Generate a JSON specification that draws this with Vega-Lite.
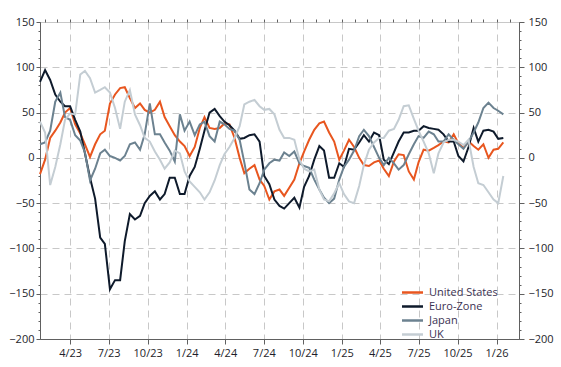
{
 "$schema": "https://vega.github.io/schema/vega-lite/v6.json",
 "width": 479,
 "height": 317,
 "autosize": "none",
 "padding": {"left": 40, "top": 22, "right": 42, "bottom": 28},
 "background": "white",
 "config": {
  "font": "Open Sans",
  "view": {"stroke": "#c8c8c8", "strokeWidth": 1},
  "axis": {"labelFont": "Open Sans", "labelFontSize": 11, "labelColor": "#1e1e2a", "domainColor": "#606060", "tickColor": "#606060", "gridColor": "#c8c8c8", "gridDash": [7, 5], "gridWidth": 1, "title": null}
 },
 "datasets": {
  "rows": [
   {"date": "2023-01-20", "us": -18, "ez": 84, "jp": 15, "uk": 40},
   {"date": "2023-02-01", "us": -2, "ez": 97, "jp": 17, "uk": 28},
   {"date": "2023-02-13", "us": 22, "ez": 86, "jp": 30, "uk": -30},
   {"date": "2023-02-25", "us": 30, "ez": 70, "jp": 62, "uk": -10},
   {"date": "2023-03-09", "us": 39, "ez": 62, "jp": 72, "uk": 15},
   {"date": "2023-03-20", "us": 50, "ez": 57, "jp": 45, "uk": 42},
   {"date": "2023-04-01", "us": 55, "ez": 57, "jp": 42, "uk": 49},
   {"date": "2023-04-13", "us": 37, "ez": 42, "jp": 25, "uk": 48},
   {"date": "2023-04-25", "us": 27, "ez": 29, "jp": 19, "uk": 92},
   {"date": "2023-05-06", "us": 15, "ez": 5, "jp": 6, "uk": 96},
   {"date": "2023-05-18", "us": 1, "ez": -22, "jp": -25, "uk": 88},
   {"date": "2023-05-30", "us": 15, "ez": -45, "jp": -12, "uk": 72},
   {"date": "2023-06-11", "us": 26, "ez": -88, "jp": 5, "uk": 75},
   {"date": "2023-06-22", "us": 30, "ez": -95, "jp": 9, "uk": 78},
   {"date": "2023-07-04", "us": 60, "ez": -145, "jp": 2, "uk": 72},
   {"date": "2023-07-16", "us": 70, "ez": -135, "jp": 0, "uk": 55},
   {"date": "2023-07-28", "us": 77, "ez": -135, "jp": -3, "uk": 32},
   {"date": "2023-08-08", "us": 78, "ez": -92, "jp": 2, "uk": 62},
   {"date": "2023-08-20", "us": 66, "ez": -62, "jp": 15, "uk": 75},
   {"date": "2023-09-01", "us": 55, "ez": -68, "jp": 17, "uk": 48},
   {"date": "2023-09-13", "us": 60, "ez": -64, "jp": 9, "uk": 36},
   {"date": "2023-09-24", "us": 53, "ez": -50, "jp": 26, "uk": 22},
   {"date": "2023-10-06", "us": 50, "ez": -42, "jp": 60, "uk": 18},
   {"date": "2023-10-18", "us": 53, "ez": -37, "jp": 26, "uk": 7},
   {"date": "2023-10-30", "us": 62, "ez": -46, "jp": 26, "uk": -2},
   {"date": "2023-11-10", "us": 45, "ez": -40, "jp": 17, "uk": -12},
   {"date": "2023-11-22", "us": 35, "ez": -22, "jp": 8, "uk": -5},
   {"date": "2023-12-04", "us": 25, "ez": -22, "jp": -4, "uk": 8},
   {"date": "2023-12-16", "us": 18, "ez": -40, "jp": 48, "uk": 5},
   {"date": "2023-12-27", "us": 13, "ez": -40, "jp": 30, "uk": -15},
   {"date": "2024-01-08", "us": 2, "ez": -20, "jp": 40, "uk": -26},
   {"date": "2024-01-20", "us": 12, "ez": -10, "jp": 25, "uk": -32},
   {"date": "2024-02-01", "us": 33, "ez": 10, "jp": 37, "uk": -38},
   {"date": "2024-02-12", "us": 45, "ez": 30, "jp": 40, "uk": -46},
   {"date": "2024-02-24", "us": 33, "ez": 50, "jp": 24, "uk": -38},
   {"date": "2024-03-07", "us": 32, "ez": 54, "jp": 18, "uk": -25},
   {"date": "2024-03-19", "us": 33, "ez": 46, "jp": 40, "uk": -8},
   {"date": "2024-03-30", "us": 38, "ez": 40, "jp": 37, "uk": 4},
   {"date": "2024-04-11", "us": 37, "ez": 36, "jp": 32, "uk": 12},
   {"date": "2024-04-23", "us": 22, "ez": 30, "jp": 30, "uk": 22},
   {"date": "2024-05-05", "us": 0, "ez": 21, "jp": 20, "uk": 35},
   {"date": "2024-05-16", "us": -17, "ez": 22, "jp": -5, "uk": 59},
   {"date": "2024-05-28", "us": -12, "ez": 25, "jp": -35, "uk": 62},
   {"date": "2024-06-09", "us": -8, "ez": 26, "jp": -40, "uk": 64},
   {"date": "2024-06-21", "us": -24, "ez": 18, "jp": -28, "uk": 57},
   {"date": "2024-07-02", "us": -31, "ez": -20, "jp": -13, "uk": 53},
   {"date": "2024-07-14", "us": -46, "ez": -29, "jp": -6, "uk": 54},
   {"date": "2024-07-26", "us": -37, "ez": -46, "jp": -2, "uk": 48},
   {"date": "2024-08-07", "us": -35, "ez": -53, "jp": -3, "uk": 31},
   {"date": "2024-08-18", "us": -42, "ez": -56, "jp": 6, "uk": 22},
   {"date": "2024-08-30", "us": -33, "ez": -50, "jp": 2, "uk": 22},
   {"date": "2024-09-11", "us": -24, "ez": -44, "jp": 7, "uk": 20},
   {"date": "2024-09-23", "us": -6, "ez": -55, "jp": -6, "uk": -2},
   {"date": "2024-10-04", "us": 7, "ez": -32, "jp": -9, "uk": -12},
   {"date": "2024-10-16", "us": 20, "ez": -20, "jp": -11, "uk": -15},
   {"date": "2024-10-28", "us": 31, "ez": -2, "jp": -24, "uk": -13},
   {"date": "2024-11-09", "us": 38, "ez": 13, "jp": -35, "uk": -35},
   {"date": "2024-11-20", "us": 40, "ez": 8, "jp": -44, "uk": -46},
   {"date": "2024-12-02", "us": 28, "ez": -22, "jp": -50, "uk": -48},
   {"date": "2024-12-14", "us": 18, "ez": -22, "jp": -45, "uk": -39},
   {"date": "2024-12-26", "us": -2, "ez": -6, "jp": -24, "uk": -28},
   {"date": "2025-01-06", "us": 8, "ez": -10, "jp": -10, "uk": -40},
   {"date": "2025-01-18", "us": 20, "ez": 10, "jp": -2, "uk": -48},
   {"date": "2025-01-30", "us": 12, "ez": 9, "jp": 8, "uk": -50},
   {"date": "2025-02-11", "us": 0, "ez": 17, "jp": 24, "uk": -31},
   {"date": "2025-02-22", "us": -8, "ez": 25, "jp": 31, "uk": -8},
   {"date": "2025-03-06", "us": -9, "ez": 18, "jp": 24, "uk": 9},
   {"date": "2025-03-18", "us": -5, "ez": 28, "jp": 12, "uk": 17},
   {"date": "2025-03-30", "us": -3, "ez": 25, "jp": 0, "uk": 22},
   {"date": "2025-04-10", "us": -12, "ez": -2, "jp": -8, "uk": 22},
   {"date": "2025-04-22", "us": -20, "ez": -7, "jp": 0, "uk": 30},
   {"date": "2025-05-04", "us": -4, "ez": 6, "jp": -6, "uk": 32},
   {"date": "2025-05-15", "us": 4, "ez": 18, "jp": -13, "uk": 42},
   {"date": "2025-05-27", "us": 3, "ez": 28, "jp": -8, "uk": 57},
   {"date": "2025-06-08", "us": -15, "ez": 28, "jp": 4, "uk": 58},
   {"date": "2025-06-20", "us": -24, "ez": 30, "jp": 15, "uk": 43},
   {"date": "2025-07-01", "us": -5, "ez": 30, "jp": 24, "uk": 30},
   {"date": "2025-07-13", "us": 9, "ez": 35, "jp": 22, "uk": 18},
   {"date": "2025-07-25", "us": 8, "ez": 33, "jp": 29, "uk": 5},
   {"date": "2025-08-06", "us": 11, "ez": 32, "jp": 26, "uk": -17},
   {"date": "2025-08-17", "us": 14, "ez": 31, "jp": 18, "uk": 5},
   {"date": "2025-08-29", "us": 18, "ez": 26, "jp": 18, "uk": 17},
   {"date": "2025-09-10", "us": 17, "ez": 18, "jp": 26, "uk": 20},
   {"date": "2025-09-22", "us": 26, "ez": 18, "jp": 20, "uk": 20},
   {"date": "2025-10-03", "us": 16, "ez": 2, "jp": 15, "uk": 18},
   {"date": "2025-10-15", "us": 11, "ez": -4, "jp": 10, "uk": 14},
   {"date": "2025-10-27", "us": 18, "ez": 12, "jp": 18, "uk": 20},
   {"date": "2025-11-08", "us": 13, "ez": 33, "jp": 28, "uk": -10},
   {"date": "2025-11-19", "us": 9, "ez": 18, "jp": 39, "uk": -28},
   {"date": "2025-12-01", "us": 15, "ez": 30, "jp": 55, "uk": -30},
   {"date": "2025-12-13", "us": 0, "ez": 31, "jp": 61, "uk": -38},
   {"date": "2025-12-25", "us": 9, "ez": 29, "jp": 55, "uk": -46},
   {"date": "2026-01-05", "us": 10, "ez": 21, "jp": 52, "uk": -50},
   {"date": "2026-01-17", "us": 17, "ez": 22, "jp": 48, "uk": -20}
  ]
 },
 "layer": [
  {
   "data": {"name": "rows"},
   "transform": [{"fold": ["us", "ez", "jp", "uk"], "as": ["key", "value"]}],
   "mark": {"type": "line", "strokeWidth": 2},
   "encoding": {
    "x": {
     "field": "date", "type": "temporal",
     "scale": {"type": "utc", "domain": [{"year": 2023, "month": 1, "date": 20, "utc": true}, {"year": 2026, "month": 2, "date": 23, "utc": true}]},
     "axis": {"tickCount": {"interval": "month", "step": 3}, "format": "%-m/%y", "grid": true, "tickSize": 5, "labelPadding": 3, "labelFlush": false, "labelOverlap": false, "domain": true}
    },
    "y": {
     "field": "value", "type": "quantitative",
     "scale": {"domain": [-200, 150], "nice": false, "zero": false},
     "axis": {"orient": "left", "values": [-200, -150, -100, -50, 0, 50, 100, 150], "grid": true, "tickSize": 4, "labelPadding": 2}
    },
    "color": {
     "field": "key", "type": "nominal",
     "scale": {"domain": ["us", "ez", "jp", "uk"], "range": ["#E8561F", "#0E1A2B", "#6C8290", "#C4CDD3"]},
     "legend": {"orient": "none", "legendX": 364, "legendY": 262, "title": null, "symbolType": "M-1.5,0L1.5,0", "symbolStrokeWidth": 2.5, "symbolSize": 196, "labelFontSize": 11, "labelColor": "#3b3252", "labelFont": "Open Sans", "rowPadding": -0.5, "labelOffset": 8, "labelExpr": "{'us': 'United States', 'ez': 'Euro-Zone', 'jp': 'Japan', 'uk': 'UK'}[datum.label]"}
    }
   }
  },
  {
   "mark": {"type": "rule", "color": "#000000", "strokeWidth": 1},
   "encoding": {
    "y": {
     "datum": 0, "type": "quantitative",
     "scale": {"domain": [-200, 150], "nice": false, "zero": false},
     "axis": {"orient": "right", "values": [-200, -150, -100, -50, 0, 50, 100, 150], "grid": false, "tickSize": 5, "labelPadding": 4}
    }
   }
  },
  {
   "mark": {"type": "point", "opacity": 0},
   "encoding": {
    "x": {
     "datum": {"year": 2024, "month": 1, "date": 1, "utc": true}, "type": "temporal",
     "scale": {"type": "utc", "domain": [{"year": 2023, "month": 1, "date": 20, "utc": true}, {"year": 2026, "month": 2, "date": 23, "utc": true}]},
     "axis": {"tickCount": {"interval": "month", "step": 1}, "labels": false, "domain": false, "grid": false, "tickSize": 3}
    },
    "y": {
     "datum": 0, "type": "quantitative",
     "scale": {"domain": [-200, 150], "nice": false, "zero": false},
     "axis": {"orient": "left", "values": [-200, -190, -180, -170, -160, -150, -140, -130, -120, -110, -100, -90, -80, -70, -60, -50, -40, -30, -20, -10, 0, 10, 20, 30, 40, 50, 60, 70, 80, 90, 100, 110, 120, 130, 140, 150], "labels": false, "domain": false, "grid": false, "tickSize": 2}
    }
   }
  },
  {
   "mark": {"type": "point", "opacity": 0},
   "encoding": {
    "y": {
     "datum": 0, "type": "quantitative",
     "scale": {"domain": [-200, 150], "nice": false, "zero": false},
     "axis": {"orient": "right", "values": [-200, -190, -180, -170, -160, -150, -140, -130, -120, -110, -100, -90, -80, -70, -60, -50, -40, -30, -20, -10, 0, 10, 20, 30, 40, 50, 60, 70, 80, 90, 100, 110, 120, 130, 140, 150], "labels": false, "domain": false, "grid": false, "tickSize": 2}
    }
   }
  }
 ],
 "resolve": {"axis": {"x": "independent", "y": "independent"}}
}
